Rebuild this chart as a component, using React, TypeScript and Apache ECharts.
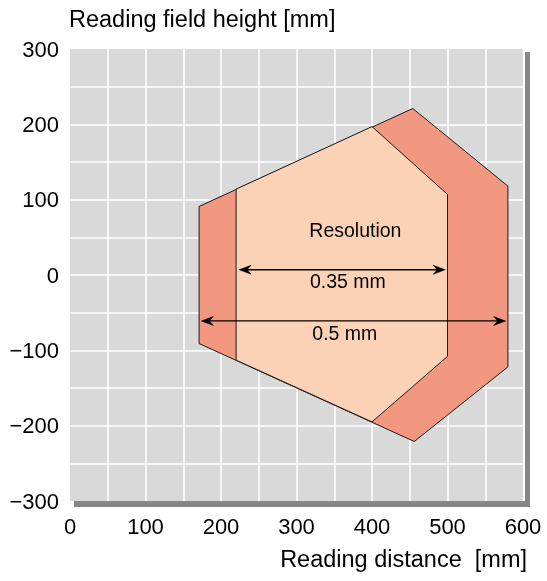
import React, { useEffect, useRef } from "react";
import * as echarts from "echarts";

// ---- data ----
const X_MIN = 0;
const X_MAX = 600;
const Y_MIN = -300;
const Y_MAX = 300;
const GRID_STEP = 50;
const LABEL_STEP = 100;

const xTitle = "Reading distance  [mm]";
const yTitle = "Reading field height [mm]";

// outer zone (0.5 mm resolution)
const outerX = [171, 454, 580, 580, 456, 171];
const outerY = [91, 221, 118, -122, -221, -91];
// inner zone (0.35 mm resolution)
const innerX = [220, 400, 500, 500, 400, 220];
const innerY = [114, 197, 107, -108, -195, -113];

// dimension arrows
const arrowY = [7, -61];
const arrowX0 = [224, 174];
const arrowX1 = [497, 577];

// annotations
const noteText = ["Resolution", "0.35 mm", "0.5 mm"];
const noteX = [378, 368, 364];
const noteY = [60, -8, -77];

const FONT = "'Liberation Sans', Arial, Helvetica, sans-serif";

export default function App() {
  const ref = useRef<HTMLDivElement>(null);

  useEffect(() => {
    if (!ref.current) return;
    const chart = echarts.init(ref.current, undefined, { renderer: "svg" });

    const gridLeft = 70;
    const gridTop = 49;
    const gridW = 453;
    const gridH = 452;

    const fmt = (v: number) => {
      if (v % LABEL_STEP !== 0) return "";
      if (v < 0) return "\u2212" + Math.abs(v);
      return String(v);
    };

    const polySeries = (xs: number[], ys: number[], color: string, z: number) => ({
      type: "custom",
      coordinateSystem: "cartesian2d",
      data: [[xs[0], ys[0]]],
      clip: false,
      z,
      silent: true,
      renderItem: (_p: any, api: any) => ({
        type: "polygon",
        shape: { points: xs.map((x, i) => api.coord([x, ys[i]])) },
        style: { fill: color, stroke: "#1a1a1a", lineWidth: 1 },
      }),
    });

    const arrowHead = (tip: number[], dir: number) => {
      const L = 12;
      const W = 4.5;
      const N = 8;
      return {
        type: "polygon",
        shape: {
          points: [
            [tip[0], tip[1]],
            [tip[0] - dir * L, tip[1] - W],
            [tip[0] - dir * N, tip[1]],
            [tip[0] - dir * L, tip[1] + W],
          ],
        },
        style: { fill: "#000", stroke: "#000", lineWidth: 0.5 },
      };
    };

    const option: any = {
      animation: false,
      grid: {
        left: gridLeft,
        top: gridTop,
        width: gridW,
        height: gridH,
        show: true,
        backgroundColor: "#d9d9d9",
        borderWidth: 0,
      },
      xAxis: {
        type: "value",
        min: X_MIN,
        max: X_MAX,
        interval: GRID_STEP,
        axisLine: { show: false },
        axisTick: { show: false },
        axisLabel: {
          formatter: fmt,
          color: "#000",
          fontSize: 22,
          fontFamily: FONT,
          margin: 14,
          showMinLabel: true,
          showMaxLabel: true,
        },
        splitLine: {
          show: true,
          showMinLine: false,
          showMaxLine: false,
          lineStyle: { color: "#ffffff", width: 1.5 },
        },
      },
      yAxis: {
        type: "value",
        min: Y_MIN,
        max: Y_MAX,
        interval: GRID_STEP,
        axisLine: { show: false },
        axisTick: { show: false },
        axisLabel: {
          formatter: fmt,
          color: "#000",
          fontSize: 22,
          fontFamily: FONT,
          margin: 11,
          showMinLabel: true,
          showMaxLabel: true,
        },
        splitLine: {
          show: true,
          showMinLine: false,
          showMaxLine: false,
          lineStyle: { color: "#ffffff", width: 1.5 },
        },
      },
      graphic: [
        {
          type: "rect",
          shape: { x: gridLeft + gridW + 2, y: gridTop + 3, width: 5, height: gridH + 3 },
          style: { fill: "#868686" },
          silent: true,
        },
        {
          type: "rect",
          shape: { x: gridLeft + 4, y: gridTop + gridH, width: gridW + 3, height: 6 },
          style: { fill: "#868686" },
          silent: true,
        },
        {
          type: "text",
          x: 69,
          y: 19,
          style: {
            text: yTitle,
            fill: "#000",
            font: "23.5px " + FONT,
            textAlign: "left",
            textVerticalAlign: "middle",
          },
          silent: true,
        },
        {
          type: "text",
          x: 527,
          y: 559,
          style: {
            text: xTitle,
            fill: "#000",
            font: "23.5px " + FONT,
            textAlign: "right",
            textVerticalAlign: "middle",
          },
          silent: true,
        },
      ],
      series: [
        polySeries(outerX, outerY, "#f29880", 2),
        polySeries(innerX, innerY, "#fcd2b7", 3),
        {
          type: "custom",
          coordinateSystem: "cartesian2d",
          data: arrowY.map((y, i) => [arrowX0[i], y]),
          clip: false,
          z: 4,
          silent: true,
          renderItem: (p: any, api: any) => {
            const i = p.dataIndex;
            const a = api.coord([arrowX0[i], arrowY[i]]);
            const b = api.coord([arrowX1[i], arrowY[i]]);
            return {
              type: "group",
              children: [
                {
                  type: "line",
                  shape: { x1: a[0] + 6, y1: a[1], x2: b[0] - 6, y2: b[1] },
                  style: { stroke: "#000", lineWidth: 1.3 },
                },
                arrowHead(a, -1),
                arrowHead(b, 1),
              ],
            };
          },
        },
        {
          type: "custom",
          coordinateSystem: "cartesian2d",
          data: noteX.map((x, i) => [x, noteY[i]]),
          clip: false,
          z: 5,
          silent: true,
          renderItem: (p: any, api: any) => {
            const i = p.dataIndex;
            const c = api.coord([noteX[i], noteY[i]]);
            return {
              type: "text",
              x: c[0],
              y: c[1],
              style: {
                text: noteText[i],
                fill: "#000",
                font: "19.5px " + FONT,
                textAlign: "center",
                textVerticalAlign: "middle",
              },
            };
          },
        },
      ],
    };

    chart.setOption(option);
    return () => chart.dispose();
  }, []);

  return (
    <div
      ref={ref}
      style={{ position: "fixed", left: 0, top: 0, width: 547, height: 581 }}
    />
  );
}
